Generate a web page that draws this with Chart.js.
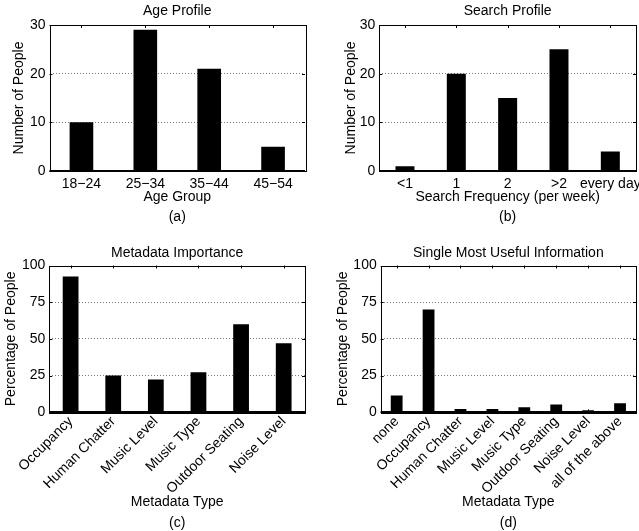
<!DOCTYPE html>
<html>
<head>
<meta charset="utf-8">
<script src="https://cdn.jsdelivr.net/npm/chart.js@4/dist/chart.umd.min.js"></script>
<style>
  html, body { margin: 0; padding: 0; background: #fff; }
  body { width: 639px; height: 531px; position: relative; overflow: hidden; }
  .panel { position: absolute; }
</style>
</head>
<body>
<div class="panel" style="left:0;top:0;width:320px;height:230px"><canvas id="chartA"></canvas></div>
<div class="panel" style="left:320px;top:0;width:319px;height:230px"><canvas id="chartB"></canvas></div>
<div class="panel" style="left:0;top:238px;width:320px;height:293px"><canvas id="chartC"></canvas></div>
<div class="panel" style="left:320px;top:238px;width:319px;height:293px"><canvas id="chartD"></canvas></div>
<script>
// (a) age profile
const ageGroups = ['18−24', '25−34', '35−44', '45−54'];
const ageCounts = [10, 29, 21, 5];
const ageTicks = [0, 10, 20, 30];

// (b) search profile
const searchFreqs = ['<1', '1', '2', '>2', 'every day'];
const searchCounts = [1, 20, 15, 25, 4];

// (c) metadata importance
const metadataTypes = ['Occupancy', 'Human Chatter', 'Music Level', 'Music Type', 'Outdoor Seating', 'Noise Level'];
const importancePct = [92.5, 25, 22.3, 27.3, 60, 47];
const pctTicks = [0, 25, 50, 75, 100];

// (d) single most useful information
const usefulTypes = ['none', 'Occupancy', 'Human Chatter', 'Music Level', 'Music Type', 'Outdoor Seating', 'Noise Level', 'all of the above'];
const usefulPct = [11.5, 70, 2.3, 2.3, 3.4, 5.3, 1.4, 6.2];

const FONT = 'Liberation Sans, Arial, Helvetica, sans-serif';
Chart.defaults.font.family = FONT;
Chart.defaults.font.size = 14;
Chart.defaults.color = '#000';

// matlab style box with small inward ticks
const boxPlugin = {
    id: 'matlabBox',
    afterDatasetsDraw(chart) {
        const {ctx, chartArea: a, scales} = chart;
        const x = scales.x, y = scales.y;
        ctx.save();
        ctx.strokeStyle = '#000';
        ctx.lineWidth = 1;
        ctx.beginPath();
        for (let i = 0; i < x.ticks.length; i++) {
            const px = Math.round(x.getPixelForTick(i)) + 0.5;
            ctx.moveTo(px, a.top); ctx.lineTo(px, a.top + 3);
            ctx.moveTo(px, a.bottom); ctx.lineTo(px, a.bottom - 3);
        }
        for (let i = 0; i < y.ticks.length; i++) {
            const py = Math.round(y.getPixelForTick(i)) + 0.5;
            ctx.moveTo(a.left, py); ctx.lineTo(a.left + 3, py);
            ctx.moveTo(a.right, py); ctx.lineTo(a.right - 3, py);
        }
        ctx.stroke();
        ctx.strokeRect(Math.round(a.left) + 0.5, Math.round(a.top) + 0.5,
            Math.round(a.right - a.left), Math.round(a.bottom - a.top));
        ctx.lineWidth = 2;
        ctx.beginPath();
        ctx.moveTo(a.left, Math.round(a.bottom));
        ctx.lineTo(a.right, Math.round(a.bottom));
        ctx.stroke();
        ctx.restore();
    }
};

function makeBarChart(id, cfg) {
    const tickValues = cfg.yTicks;
    return new Chart(document.getElementById(id), {
        type: 'bar',
        data: {
            labels: cfg.labels,
            datasets: [{
                data: cfg.values,
                backgroundColor: '#000',
                borderWidth: 0,
                barPercentage: 0.37,
                categoryPercentage: 1
            }]
        },
        options: {
            responsive: true,
            maintainAspectRatio: false,
            animation: false,
            layout: { padding: { left: 0, right: cfg.padRight, top: 0, bottom: 0 } },
            plugins: {
                legend: { display: false },
                tooltip: { enabled: false },
                title: {
                    display: true,
                    text: cfg.title,
                    fullSize: false,
                    font: { size: 14, weight: 'normal', lineHeight: 1 },
                    padding: cfg.titlePad
                },
                subtitle: {
                    display: true,
                    text: cfg.caption,
                    position: 'bottom',
                    fullSize: false,
                    font: { size: 14, weight: 'normal', lineHeight: 1 },
                    padding: cfg.captionPad
                }
            },
            scales: {
                x: {
                    grid: { display: false, drawTicks: false },
                    border: { display: false },
                    ticks: {
                        autoSkip: false,
                        padding: cfg.xTickPad,
                        minRotation: cfg.rotate,
                        maxRotation: cfg.rotate
                    },
                    title: {
                        display: true,
                        text: cfg.xTitle,
                        font: { size: 14, lineHeight: 1 },
                        padding: { top: 0, bottom: 0 }
                    },
                    afterFit(scale) {
                        scale.height = cfg.xHeight;
                        scale.paddingLeft = 0;
                        scale.paddingRight = 0;
                    }
                },
                y: {
                    min: tickValues[0],
                    max: tickValues[tickValues.length - 1],
                    afterBuildTicks(scale) {
                        scale.ticks = tickValues.map(v => ({ value: v }));
                    },
                    grid: {
                        drawTicks: false,
                        lineWidth: 1,
                        color: (c) => (c.index === 0 || c.index === tickValues.length - 1) ? 'rgba(0,0,0,0)' : '#7a7a7a'
                    },
                    border: { display: false, dash: [1, 2] },
                    ticks: { padding: 4 },
                    title: {
                        display: true,
                        text: cfg.yTitle,
                        font: { size: 14, lineHeight: 1 },
                        padding: { top: cfg.yTitlePad, bottom: 0 }
                    },
                    afterFit(scale) {
                        scale.width = cfg.yWidth;
                        scale.paddingTop = 0;
                        scale.paddingBottom = 0;
                    }
                }
            }
        },
        plugins: [boxPlugin]
    });
}

makeBarChart('chartA', {
    labels: ageGroups, values: ageCounts, yTicks: ageTicks,
    title: 'Age Profile', caption: '(a)',
    xTitle: 'Age Group', yTitle: 'Number of People',
    padRight: 15, yWidth: 49.5, yTitlePad: 12,
    titlePad: { top: 4, bottom: 7 }, captionPad: { top: 5.5, bottom: 6 },
    xHeight: 33.5, xTickPad: 4.5, rotate: 0
});

makeBarChart('chartB', {
    labels: searchFreqs, values: searchCounts, yTicks: ageTicks,
    title: 'Search Profile', caption: '(b)',
    xTitle: 'Search Frequency (per week)', yTitle: 'Number of People',
    padRight: 3, yWidth: 59.3, yTitlePad: 24,
    titlePad: { top: 4, bottom: 7 }, captionPad: { top: 5.5, bottom: 6 },
    xHeight: 33.5, xTickPad: 4.5, rotate: 0
});

makeBarChart('chartC', {
    labels: metadataTypes, values: importancePct, yTicks: pctTicks,
    title: 'Metadata Importance', caption: '(c)',
    xTitle: 'Metadata Type', yTitle: 'Percentage of People',
    padRight: 15, yWidth: 49.3, yTitlePad: 4,
    titlePad: { top: 8.5, bottom: 5 }, captionPad: { top: 7.6, bottom: 0.7 },
    xHeight: 96.4, xTickPad: 1, rotate: 45
});

makeBarChart('chartD', {
    labels: usefulTypes, values: usefulPct, yTicks: pctTicks,
    title: 'Single Most Useful Information', caption: '(d)',
    xTitle: 'Metadata Type', yTitle: 'Percentage of People',
    padRight: 3, yWidth: 60.7, yTitlePad: 16,
    titlePad: { top: 8.5, bottom: 5 }, captionPad: { top: 7.6, bottom: 0.7 },
    xHeight: 96.4, xTickPad: 1, rotate: 45
});
</script>
</body>
</html>
